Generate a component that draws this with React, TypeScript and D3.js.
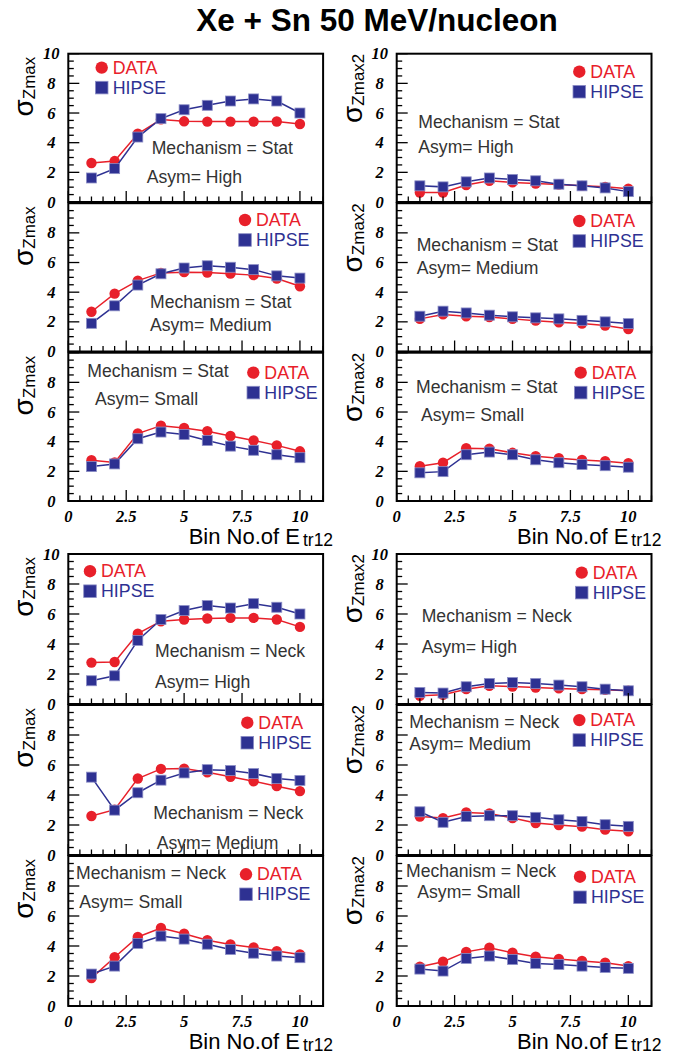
import React from "react";
import * as d3 from "d3";

// Bin numbers of E_tr12
const bins = [1, 2, 3, 4, 5, 6, 7, 8, 9, 10];
const xTickValues = [0, 2.5, 5, 7.5, 10];
const xTickLabels = ["0", "2.5", "5", "7.5", "10"];
const yTickValues = [0, 2, 4, 6, 8, 10];
const yTickLabels = ["0", "2", "4", "6", "8", "10"];

// Mechanism = Stat, sigma Zmax
const statHighZmaxData = [2.63, 2.76, 4.6, 5.57, 5.44, 5.42, 5.42, 5.42, 5.43, 5.26];
const statHighZmaxHipse = [1.62, 2.25, 4.38, 5.62, 6.22, 6.52, 6.81, 6.95, 6.81, 6.0];
const statMedZmaxData = [2.68, 3.9, 4.78, 5.3, 5.35, 5.32, 5.25, 5.15, 4.92, 4.4];
const statMedZmaxHipse = [1.9, 3.08, 4.48, 5.24, 5.63, 5.78, 5.68, 5.52, 5.1, 4.95];
const statSmallZmaxData = [2.75, 2.6, 4.55, 5.08, 4.92, 4.7, 4.38, 4.08, 3.75, 3.35];
const statSmallZmaxHipse = [2.32, 2.5, 4.2, 4.65, 4.48, 4.08, 3.7, 3.42, 3.12, 2.92];

// Mechanism = Stat, sigma Zmax2
const statHighZmax2Data = [0.64, 0.64, 1.14, 1.43, 1.32, 1.25, 1.18, 1.09, 1.02, 0.9];
const statHighZmax2Hipse = [1.09, 1.02, 1.36, 1.62, 1.52, 1.43, 1.2, 1.09, 0.95, 0.7];
const statMedZmax2Data = [2.2, 2.5, 2.38, 2.32, 2.2, 2.08, 1.97, 1.88, 1.75, 1.52];
const statMedZmax2Hipse = [2.38, 2.72, 2.6, 2.45, 2.34, 2.27, 2.2, 2.1, 2.0, 1.88];
const statSmallZmax2Data = [2.35, 2.58, 3.56, 3.52, 3.25, 3.02, 2.88, 2.77, 2.68, 2.55];
const statSmallZmax2Hipse = [1.9, 1.98, 3.12, 3.3, 3.12, 2.78, 2.58, 2.46, 2.38, 2.28];

// Mechanism = Neck, sigma Zmax
const neckHighZmaxData = [2.76, 2.8, 4.69, 5.52, 5.63, 5.7, 5.74, 5.74, 5.63, 5.14];
const neckHighZmaxHipse = [1.55, 1.88, 4.24, 5.63, 6.23, 6.56, 6.4, 6.69, 6.45, 6.0];
const neckMedZmaxData = [2.6, 3.02, 5.1, 5.74, 5.76, 5.52, 5.21, 4.92, 4.59, 4.26];
const neckMedZmaxHipse = [5.19, 2.99, 4.15, 4.99, 5.47, 5.69, 5.63, 5.43, 5.1, 4.97];
const neckSmallZmaxData = [1.86, 3.25, 4.6, 5.2, 4.82, 4.38, 4.1, 3.9, 3.66, 3.44];
const neckSmallZmaxHipse = [2.13, 2.66, 4.17, 4.66, 4.46, 4.12, 3.77, 3.52, 3.33, 3.22];

// Mechanism = Neck, sigma Zmax2
const neckHighZmax2Data = [0.55, 0.62, 0.99, 1.21, 1.17, 1.1, 1.04, 0.99, 0.95, 0.88];
const neckHighZmax2Hipse = [0.77, 0.73, 1.15, 1.37, 1.43, 1.37, 1.26, 1.15, 0.99, 0.88];
const neckMedZmax2Data = [2.57, 2.46, 2.84, 2.77, 2.46, 2.13, 2.0, 1.89, 1.69, 1.58];
const neckMedZmax2Hipse = [2.88, 2.18, 2.57, 2.62, 2.62, 2.51, 2.35, 2.24, 2.02, 1.91];
const neckSmallZmax2Data = [2.62, 2.95, 3.61, 3.88, 3.55, 3.28, 3.13, 3.0, 2.88, 2.66];
const neckSmallZmax2Hipse = [2.46, 2.33, 3.17, 3.33, 3.1, 2.84, 2.77, 2.66, 2.57, 2.51];

const RED = "#e8202a";
const BLUE = "#2e3192";
const TEXT = "#333333";
const SANS = "'Liberation Sans', Arial, sans-serif";
const SERIF = "'Liberation Serif', 'Times New Roman', serif";

const COL_X = [68.3, 396.7];
const PANEL_W = 254.8;
const BLOCKS = [
  { top: 53.7, step: 149.5, h: 148.3, mech: "Stat" },
  { top: 554, step: 151, h: 150, mech: "Neck" },
];
const LEGEND_FONT = 17.8;
const MIN_LEGEND_GAP = 20;

type Pos = [number, number];
type PanelSpec = {
  block: number;
  row: number;
  col: number;
  data: number[];
  hipse: number[];
  asym: string;
  legend: Pos; // midpoint between the two legend entries
  legendGap: number;
  mechPos: Pos;
  asymPos: Pos;
};

const panels: PanelSpec[] = [
  { block: 0, row: 0, col: 0, data: statHighZmaxData, hipse: statHighZmaxHipse, asym: "High", legend: [101.7, 77.6], legendGap: 18.6, mechPos: [151.7, 148.3], asymPos: [146.7, 176.7] },
  { block: 0, row: 0, col: 1, data: statHighZmax2Data, hipse: statHighZmax2Hipse, asym: "High", legend: [579.3, 81.7], legendGap: 20, mechPos: [418.3, 121.7], asymPos: [418.3, 147.3] },
  { block: 0, row: 1, col: 0, data: statMedZmaxData, hipse: statMedZmaxHipse, asym: "Medium", legend: [245, 230], legendGap: 18, mechPos: [150, 302.3], asymPos: [150, 325] },
  { block: 0, row: 1, col: 1, data: statMedZmax2Data, hipse: statMedZmax2Hipse, asym: "Medium", legend: [579.3, 231], legendGap: 20, mechPos: [416.7, 245], asymPos: [416.7, 268.3] },
  { block: 0, row: 2, col: 0, data: statSmallZmaxData, hipse: statSmallZmaxHipse, asym: "Small", legend: [253.3, 382.6], legendGap: 18.6, mechPos: [87.3, 371], asymPos: [95, 399.3] },
  { block: 0, row: 2, col: 1, data: statSmallZmax2Data, hipse: statSmallZmax2Hipse, asym: "Small", legend: [580.7, 382.6], legendGap: 18.6, mechPos: [416, 386.7], asymPos: [421, 415] },
  { block: 1, row: 0, col: 0, data: neckHighZmaxData, hipse: neckHighZmaxHipse, asym: "High", legend: [90, 581.2], legendGap: 19, mechPos: [155, 650.7], asymPos: [155, 681.7] },
  { block: 1, row: 0, col: 1, data: neckHighZmax2Data, hipse: neckHighZmax2Hipse, asym: "High", legend: [581.7, 582.6], legendGap: 18.6, mechPos: [421.7, 616], asymPos: [421.7, 646.7] },
  { block: 1, row: 1, col: 0, data: neckMedZmaxData, hipse: neckMedZmaxHipse, asym: "Medium", legend: [247.3, 732.7], legendGap: 18.4, mechPos: [153.3, 813.3], asymPos: [156.7, 843.3] },
  { block: 1, row: 1, col: 1, data: neckMedZmax2Data, hipse: neckMedZmax2Hipse, asym: "Medium", legend: [579.3, 730.1], legendGap: 18.8, mechPos: [409.3, 721.7], asymPos: [409.3, 744] },
  { block: 1, row: 2, col: 0, data: neckSmallZmaxData, hipse: neckSmallZmaxHipse, asym: "Small", legend: [246, 884.3], legendGap: 18.6, mechPos: [76, 873.3], asymPos: [79.3, 901.7] },
  { block: 1, row: 2, col: 1, data: neckSmallZmax2Data, hipse: neckSmallZmax2Hipse, asym: "Small", legend: [580, 887], legendGap: 20.6, mechPos: [406, 870.7], asymPos: [417.3, 891.7] },
];

const minorX = d3.range(0, 11.001, 0.5);
const minorY = d3.range(0, 10.001, 0.5);

function Panel({ spec }: { spec: PanelSpec }) {
  const blk = BLOCKS[spec.block];
  const x0 = COL_X[spec.col];
  const top = blk.top + spec.row * blk.step;
  const bottom = top + blk.h;
  const x = d3.scaleLinear().domain([0, 11]).range([x0, x0 + PANEL_W]);
  const y = d3.scaleLinear().domain([0, 10]).range([bottom, top]);
  const line = d3
    .line<number>()
    .x((_, i) => x(bins[i]))
    .y((v) => y(v));
  const isBottom = spec.row === 2;
  const isTop = spec.row === 0;
  const yTicksShown = yTickValues.filter((v) => isTop || v < 10);
  const sub = spec.col === 0 ? "Zmax" : "Zmax2";
  const titleX = spec.col === 0 ? 33 : 362;
  const titleY = spec.col === 0 ? top + 3 : top;
  const gap = Math.max(spec.legendGap, MIN_LEGEND_GAP);
  const lx = spec.legend[0];
  const lyData = spec.legend[1] - gap / 2;
  const lyHipse = spec.legend[1] + gap / 2;
  const mech = blk.mech;
  return (
    <g>
      {/* plotted series: DATA below, HIPSE above */}
      <path d={line(spec.data) || ""} fill="none" stroke={RED} strokeWidth={1.5} />
      {spec.data.map((v, i) => (
        <circle key={"d" + i} cx={x(bins[i])} cy={y(v)} r={5.2} fill={RED} />
      ))}
      <path d={line(spec.hipse) || ""} fill="none" stroke={BLUE} strokeWidth={1.5} />
      {spec.hipse.map((v, i) => (
        <rect
          key={"h" + i}
          x={x(bins[i]) - 5}
          y={y(v) - 5}
          width={10}
          height={10}
          fill={BLUE}
          stroke="#8c8ec6"
          strokeWidth={0.8}
        />
      ))}

      {/* frame */}
      <rect x={x0} y={top} width={PANEL_W} height={blk.h} fill="none" stroke="#000" strokeWidth={2} />

      {/* y ticks */}
      {minorY.map((v) => {
        const major = Math.abs(v % 2) < 1e-6;
        return (
          <line key={"yt" + v} x1={x0} x2={x0 + (major ? 11 : 5.5)} y1={y(v)} y2={y(v)} stroke="#000" strokeWidth={1.3} />
        );
      })}
      {/* x ticks */}
      {minorX.map((v) => {
        const major = Math.abs(v % 2.5) < 1e-6;
        return (
          <line key={"xt" + v} x1={x(v)} x2={x(v)} y1={bottom} y2={bottom - (major ? 11 : 5.5)} stroke="#000" strokeWidth={1.3} />
        );
      })}

      {/* y tick labels */}
      {yTicksShown.map((v) => (
        <text
          key={"yl" + v}
          x={x0 - 17}
          y={y(v) + 5.5}
          textAnchor="middle"
          fontFamily={SERIF}
          fontWeight="bold"
          fontStyle="italic"
          fontSize={16.5}
          fill="#000"
        >
          {yTickLabels[yTickValues.indexOf(v)]}
        </text>
      ))}

      {/* x tick labels and axis title */}
      {isBottom &&
        xTickValues.map((v, i) => (
          <text
            key={"xl" + v}
            x={x(v)}
            y={bottom + 21}
            textAnchor="middle"
            fontFamily={SERIF}
            fontWeight="bold"
            fontStyle="italic"
            fontSize={16.5}
            fill="#000"
          >
            {xTickLabels[i]}
          </text>
        ))}
      {isBottom && (
        <text x={x0 + PANEL_W + 10} y={bottom + 43} textAnchor="end" fontFamily={SANS} fill="#000">
          <tspan fontSize={22}>Bin No.of E</tspan>
          <tspan fontSize={17.5} dx={3} dy={2}>tr12</tspan>
        </text>
      )}

      {/* y axis title */}
      <text transform={`translate(${titleX},${titleY}) rotate(-90)`} textAnchor="end" fontFamily={SANS} fill="#000">
        <tspan fontSize={28}>σ</tspan>
        <tspan fontSize={17} dy={2}>{sub}</tspan>
      </text>

      {/* legend */}
      <circle cx={lx} cy={lyData} r={6.2} fill={RED} />
      <text x={lx + 11} y={lyData} dominantBaseline="central" fontFamily={SANS} fontSize={LEGEND_FONT} fill={RED}>
        DATA
      </text>
      <rect x={lx - 6.3} y={lyHipse - 6.3} width={12.6} height={12.6} fill={BLUE} stroke="#8c8ec6" strokeWidth={0.8} />
      <text x={lx + 11} y={lyHipse} dominantBaseline="central" fontFamily={SANS} fontSize={LEGEND_FONT} fill={BLUE}>
        HIPSE
      </text>

      {/* annotations */}
      <text x={spec.mechPos[0]} y={spec.mechPos[1]} dominantBaseline="central" fontFamily={SANS} fontSize={17.6} fill={TEXT}>
        {`Mechanism = ${mech}`}
      </text>
      <text x={spec.asymPos[0]} y={spec.asymPos[1]} dominantBaseline="central" fontFamily={SANS} fontSize={17.6} fill={TEXT}>
        {`Asym= ${spec.asym}`}
      </text>
    </g>
  );
}

export default function App() {
  return (
    <svg width={684} height={1055} viewBox="0 0 684 1055" style={{ position: "absolute", left: 0, top: 0, background: "#fff" }}>
      <rect width={684} height={1055} fill="#fff" />
      <text x={377} y={31} textAnchor="middle" fontFamily={SANS} fontWeight="bold" fontSize={31.5} fill="#000">
        Xe + Sn 50 MeV/nucleon
      </text>
      {panels.map((p, i) => (
        <Panel key={i} spec={p} />
      ))}
    </svg>
  );
}
